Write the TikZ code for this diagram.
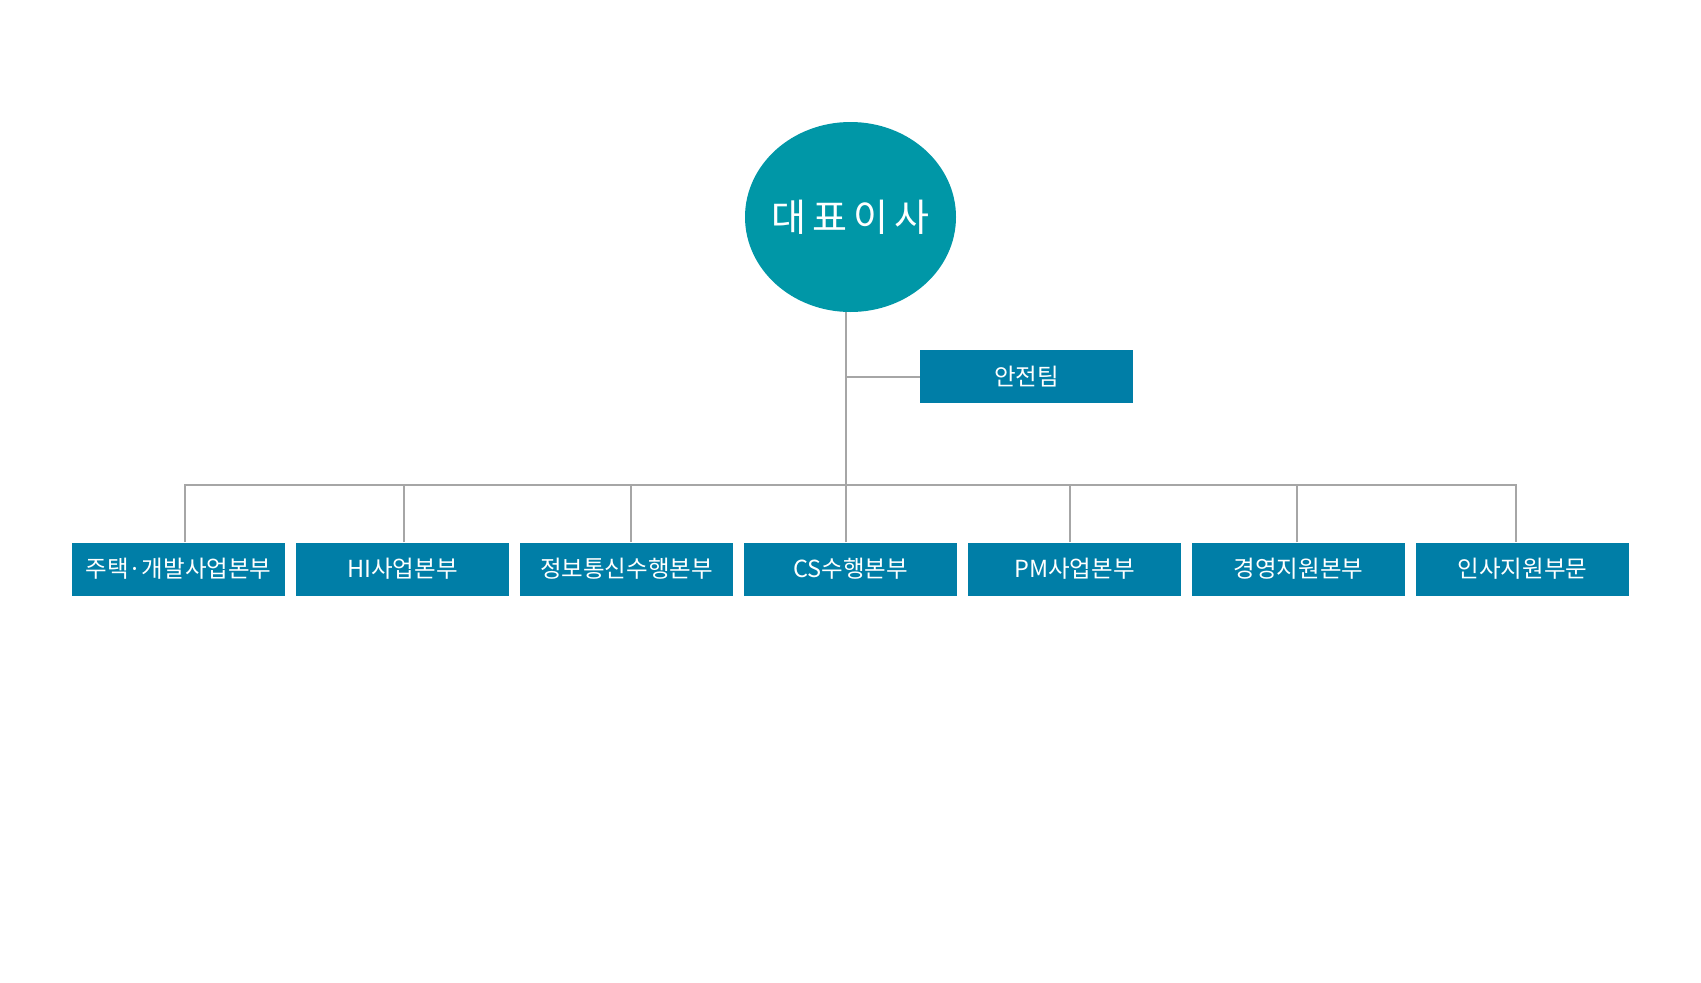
\documentclass[tikz,border=0pt]{standalone}
\usepackage{fontspec}
\usepackage{tikz}
\usetikzlibrary{shapes.geometric}
\newfontfamily\kor{Noto Sans CJK KR}
\definecolor{ceoteal}{RGB}{0,151,167}
\definecolor{deptblue}{RGB}{0,126,167}
\definecolor{linegray}{RGB}{166,166,166}

\begin{document}
\begin{tikzpicture}[x=1pt, y=-1pt,
    conn/.style={draw=linegray, line width=2pt},
    dept/.style={rectangle, fill=deptblue, text=white, font=\kor\fontsize{23.5}{28}\selectfont,
        minimum width=213pt, minimum height=53pt, inner sep=0pt}]

    \useasboundingbox (0,0) rectangle (1701,983);

    \node[ellipse, fill=ceoteal, text=white, minimum width=211pt, minimum height=190pt, inner sep=0pt,
        font=\kor\fontsize{38}{44}\selectfont] (ceo) at (850.5,217) {\makebox[0pt]{대\,표\,이\,사}};

    \node[dept] (safety) at (1026.5,376.5) {안전팀};

    \node[dept] (b1) at (178.5,569) {주택·개발사업본부};
    \node[dept] (b2) at (402.5,569) {HI사업본부};
    \node[dept] (b3) at (626.5,569) {정보통신수행본부};
    \node[dept] (b4) at (850.5,569) {CS수행본부};
    \node[dept] (b5) at (1074.5,569) {PM사업본부};
    \node[dept] (b6) at (1298.5,569) {경영지원본부};
    \node[dept] (b7) at (1522.5,569) {인사지원부문};

    \coordinate (trunk) at (846,484.5);

    \draw[conn] (ceo.south -| trunk) -- (trunk);
    \draw[conn] (safety.west) -- (safety.west -| trunk);
    \draw[conn] ([xshift=6.5pt]b1.north) |- (trunk) -| ([xshift=-7pt]b7.north);
    \foreach \name/\sh in {b2/1, b3/4, b4/-5, b5/-4.7, b6/-1.5}
        \draw[conn] ([xshift=\sh pt]\name.north) -- ([xshift=\sh pt]\name.north |- trunk);

\end{tikzpicture}
\end{document}
